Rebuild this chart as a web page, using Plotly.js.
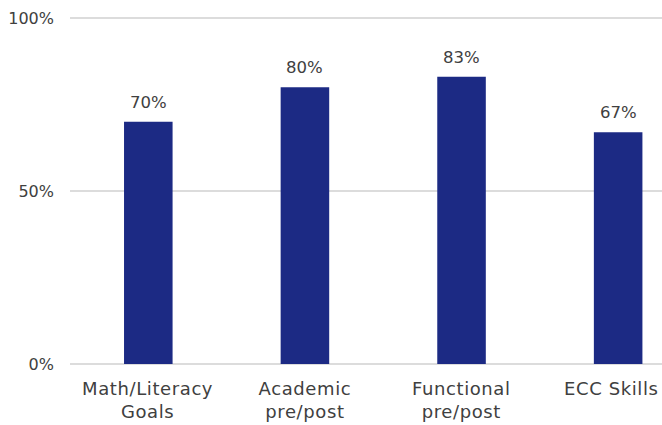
<!DOCTYPE html>
<html>
<head>
<meta charset="utf-8">
<script src="https://cdn.plot.ly/plotly-3.0.1.min.js"></script>
<style>
  html, body { margin: 0; padding: 0; background: #ffffff; }
  #chart { width: 662px; height: 425px; }
  /* wider tracking for the category names (the first four annotations) */
  #chart g.annotation[data-index="0"] text,
  #chart g.annotation[data-index="1"] text,
  #chart g.annotation[data-index="2"] text,
  #chart g.annotation[data-index="3"] text { letter-spacing: 0.6px; }
</style>
</head>
<body>
<div id="chart"></div>
<script>
// Goal categories and the share of students meeting each one
const categories = ["Math/Literacy Goals", "Academic pre/post", "Functional pre/post", "ECC Skills"];
const values = [0.70, 0.80, 0.83, 0.67];
// Category names as drawn under the axis
const xTickLabels = ["Math/Literacy<br>Goals", "Academic<br>pre/post", "Functional<br>pre/post", "ECC Skills"];
const yTickValues = [0, 0.5, 1];
const yTickLabels = ["0%", "50%", "100%"];

const textColor = "#404040";
const barColor = "#1c2a84";
const gridColor = "#dcdcdc";
const fontFamily = "DejaVu Sans, sans-serif";

const trace = {
  type: "bar",
  x: categories,
  y: values,
  width: 0.31,
  marker: { color: barColor, line: { width: 0 } },
  hoverinfo: "skip",
  cliponaxis: false
};

// Category names under the baseline; the last one is nudged left to stay in frame
const categoryLabels = categories.map((c, i) => ({
  x: c,
  y: 0,
  xref: "x",
  yref: "y",
  text: xTickLabels[i],
  showarrow: false,
  yanchor: "top",
  yshift: -12,
  xshift: i === categories.length - 1 ? -7 : 0,
  font: { family: fontFamily, size: 18, color: textColor }
}));

// Percentage labels sitting above each bar
const valueLabels = categories.map((c, i) => ({
  x: c,
  y: values[i],
  xref: "x",
  yref: "y",
  text: Math.round(values[i] * 100) + "%",
  showarrow: false,
  yanchor: "bottom",
  yshift: 8,
  font: { family: fontFamily, size: 16.5, color: textColor }
}));

const layout = {
  width: 662,
  height: 425,
  margin: { l: 70, r: 0, t: 17, b: 61 },
  paper_bgcolor: "#ffffff",
  plot_bgcolor: "#ffffff",
  showlegend: false,
  font: { family: fontFamily, size: 16, color: textColor },
  xaxis: {
    type: "category",
    range: [-0.5, 3.28],
    showticklabels: false,
    showgrid: false,
    showline: false,
    zeroline: false,
    ticks: "",
    fixedrange: true
  },
  yaxis: {
    range: [0, 1.003],
    tickvals: yTickValues,
    ticktext: yTickLabels,
    showgrid: true,
    gridcolor: gridColor,
    gridwidth: 1.5,
    zeroline: true,
    zerolinecolor: gridColor,
    zerolinewidth: 1.5,
    showline: false,
    ticks: "",
    ticklabelstandoff: 15,
    tickfont: { family: fontFamily, size: 16, color: textColor },
    fixedrange: true
  },
  annotations: categoryLabels.concat(valueLabels)
};

Plotly.newPlot("chart", [trace], layout, { displayModeBar: false, staticPlot: true });
</script>
</body>
</html>
